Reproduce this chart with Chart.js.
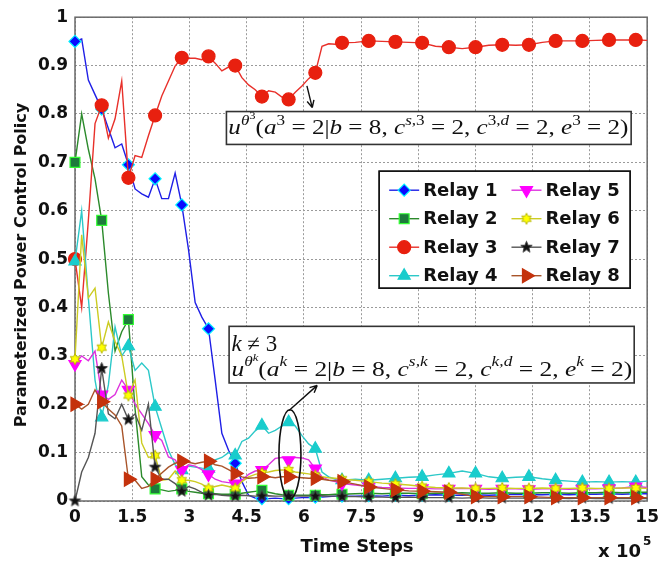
<!DOCTYPE html>
<html>
<head>
<meta charset="utf-8">
<script src="https://cdn.jsdelivr.net/npm/chart.js@4.4.1/dist/chart.umd.min.js"></script>
<style>
  html, body { margin: 0; padding: 0; background: #fff; }
  #wrap { width: 665px; height: 563px; }
</style>
</head>
<body>
<div id="wrap"><canvas id="grafico" width="665" height="563"></canvas></div>
<script>
// time axis, in units of 10^5 steps
const timeSteps = [0, 0.175, 0.35, 0.525, 0.7, 0.875, 1.05, 1.225, 1.4, 1.575, 1.75, 1.925, 2.1, 2.275, 2.45, 2.625,
  2.8, 2.975, 3.15, 3.325, 3.5, 3.675, 3.85, 4.025, 4.2, 4.375, 4.55, 4.725, 4.9, 5.075, 5.25, 5.425, 5.6, 5.775,
  5.95, 6.125, 6.3, 6.475, 6.65, 6.825, 7.0, 7.35, 7.7, 8.05, 8.4, 8.75, 9.1, 9.45, 9.8, 10.15, 10.5, 10.85, 11.2,
  11.55, 11.9, 12.25, 12.6, 12.95, 13.3, 13.65, 14.0, 14.35, 14.7, 15];

const relay1 = [0.95, 0.955, 0.87, 0.84, 0.81, 0.77, 0.73, 0.738, 0.695, 0.645, 0.635, 0.628, 0.666, 0.625, 0.625, 0.678,
  0.612, 0.52, 0.41, 0.38, 0.356, 0.25, 0.14, 0.105, 0.078, 0.04, 0.012, 0.006, 0.005, 0.005, 0.006, 0.005, 0.005, 0.006,
  0.007, 0.007, 0.008, 0.008, 0.009, 0.01, 0.01, 0.01, 0.011, 0.01, 0.012, 0.011, 0.012, 0.013, 0.012, 0.012, 0.013, 0.012,
  0.013, 0.014, 0.013, 0.013, 0.014, 0.013, 0.014, 0.014, 0.015, 0.014, 0.015, 0.015];
const relay2 = [0.70, 0.80, 0.727, 0.666, 0.58, 0.43, 0.31, 0.35, 0.375, 0.19, 0.05, 0.033, 0.025, 0.023, 0.02, 0.022,
  0.025, 0.02, 0.018, 0.016, 0.015, 0.015, 0.014, 0.014, 0.014, 0.016, 0.018, 0.02, 0.022, 0.018, 0.015, 0.013, 0.012, 0.012,
  0.012, 0.012, 0.012, 0.013, 0.013, 0.014, 0.014, 0.015, 0.016, 0.015, 0.016, 0.016, 0.015, 0.016, 0.016, 0.017, 0.016, 0.016,
  0.017, 0.016, 0.016, 0.017, 0.017, 0.016, 0.017, 0.017, 0.018, 0.017, 0.018, 0.018];
const relay3 = [0.5, 0.40, 0.58, 0.78, 0.818, 0.75, 0.79, 0.868, 0.668, 0.714, 0.71, 0.755, 0.797, 0.837, 0.868, 0.899,
  0.916, 0.915, 0.915, 0.912, 0.919, 0.905, 0.889, 0.897, 0.9, 0.875, 0.86, 0.85, 0.836, 0.848, 0.845, 0.835, 0.83, 0.845,
  0.858, 0.873, 0.885, 0.94, 0.945, 0.944, 0.947, 0.948, 0.951, 0.95, 0.949, 0.948, 0.947, 0.94, 0.938, 0.935, 0.938, 0.942,
  0.943, 0.942, 0.943, 0.948, 0.951, 0.951, 0.951, 0.952, 0.953, 0.953, 0.953, 0.952];
const relay4 = [0.495, 0.60, 0.42, 0.25, 0.173, 0.24, 0.36, 0.30, 0.32, 0.27, 0.285, 0.27, 0.195, 0.15, 0.105, 0.075,
  0.064, 0.072, 0.07, 0.068, 0.067, 0.085, 0.09, 0.1, 0.094, 0.123, 0.13, 0.145, 0.156, 0.14, 0.146, 0.155, 0.163, 0.155,
  0.135, 0.118, 0.108, 0.06, 0.05, 0.045, 0.043, 0.045, 0.043, 0.045, 0.047, 0.049, 0.05, 0.054, 0.057, 0.062, 0.057, 0.05,
  0.047, 0.049, 0.05, 0.046, 0.043, 0.041, 0.039, 0.04, 0.039, 0.04, 0.039, 0.041];
const relay5 = [0.283, 0.30, 0.29, 0.31, 0.22, 0.21, 0.22, 0.25, 0.23, 0.2, 0.18, 0.16, 0.136, 0.125, 0.091, 0.085,
  0.064, 0.075, 0.072, 0.065, 0.055, 0.045, 0.04, 0.038, 0.036, 0.043, 0.055, 0.062, 0.064, 0.075, 0.088, 0.09, 0.084, 0.09,
  0.089, 0.085, 0.067, 0.05, 0.043, 0.04, 0.036, 0.033, 0.03, 0.028, 0.027, 0.026, 0.026, 0.025, 0.025, 0.026, 0.025, 0.024,
  0.025, 0.025, 0.024, 0.025, 0.025, 0.024, 0.025, 0.025, 0.026, 0.027, 0.03, 0.028];
const relay6 = [0.293, 0.55, 0.42, 0.44, 0.317, 0.37, 0.33, 0.30, 0.218, 0.25, 0.12, 0.09, 0.094, 0.043, 0.045, 0.062,
  0.043, 0.043, 0.04, 0.035, 0.026, 0.03, 0.033, 0.03, 0.026, 0.04, 0.05, 0.055, 0.058, 0.06, 0.063, 0.064, 0.064, 0.06,
  0.058, 0.056, 0.053, 0.05, 0.048, 0.047, 0.045, 0.043, 0.04, 0.037, 0.035, 0.033, 0.03, 0.028, 0.027, 0.027, 0.026, 0.026,
  0.027, 0.026, 0.026, 0.027, 0.026, 0.026, 0.027, 0.026, 0.026, 0.027, 0.027, 0.026];
const relay7 = [0.0, 0.06, 0.09, 0.14, 0.274, 0.18, 0.17, 0.2, 0.168, 0.18, 0.146, 0.2, 0.07, 0.045, 0.045, 0.036,
  0.02, 0.03, 0.025, 0.018, 0.012, 0.014, 0.012, 0.011, 0.01, 0.012, 0.011, 0.01, 0.01, 0.011, 0.01, 0.01, 0.01, 0.011,
  0.01, 0.01, 0.01, 0.011, 0.01, 0.01, 0.009, 0.009, 0.008, 0.008, 0.007, 0.008, 0.007, 0.007, 0.007, 0.006, 0.007, 0.006,
  0.006, 0.006, 0.006, 0.006, 0.006, 0.005, 0.006, 0.005, 0.005, 0.005, 0.005, 0.005];
const relay8 = [0.2, 0.19, 0.2, 0.23, 0.205, 0.19, 0.178, 0.155, 0.045, 0.043, 0.026, 0.03, 0.045, 0.058, 0.07, 0.078,
  0.082, 0.08, 0.077, 0.08, 0.082, 0.075, 0.072, 0.065, 0.057, 0.05, 0.047, 0.048, 0.05, 0.05, 0.048, 0.05, 0.05, 0.049,
  0.048, 0.047, 0.047, 0.045, 0.043, 0.042, 0.04, 0.035, 0.029, 0.026, 0.023, 0.021, 0.02, 0.019, 0.018, 0.014, 0.009, 0.009,
  0.009, 0.009, 0.009, 0.008, 0.007, 0.007, 0.007, 0.007, 0.007, 0.007, 0.007, 0.007];

const relayNames = ['Relay 1', 'Relay 2', 'Relay 3', 'Relay 4', 'Relay 5', 'Relay 6', 'Relay 7', 'Relay 8'];
const xTickValues = [0, 1.5, 3, 4.5, 6, 7.5, 9, 10.5, 12, 13.5, 15];
const yTickValues = [0, 0.1, 0.2, 0.3, 0.4, 0.5, 0.6, 0.7, 0.8, 0.9, 1];

// a marker every 0.7 x 10^5 steps, like the original plot
function isMarker(t) {
    return t < 14.9 && Math.abs(t / 0.7 - Math.round(t / 0.7)) < 1e-6;
}

function starCanvas(points, outerR, innerR, fill, stroke) {
    const size = Math.ceil(outerR * 2 + 3);
    const c = document.createElement('canvas');
    c.width = size; c.height = size;
    const g = c.getContext('2d');
    g.beginPath();
    for (let i = 0; i < points * 2; i++) {
        const r = i % 2 === 0 ? outerR : innerR;
        const a = -Math.PI / 2 + i * Math.PI / points;
        g.lineTo(size / 2 + r * Math.cos(a), size / 2 + r * Math.sin(a));
    }
    g.closePath();
    g.fillStyle = fill; g.fill();
    g.strokeStyle = stroke; g.lineWidth = 1; g.stroke();
    return c;
}

const hexagram = starCanvas(6, 5.5, 3, '#ffff00', '#b8b800');
const pentagram = starCanvas(5, 6, 2.6, '#111111', '#444444');

const estilos = [
    { line: '#1f1fe6', fill: '#0a0aff', edge: '#00f0ff', style: 'rectRot', r: 6, rot: 0 },
    { line: '#2b8a2b', fill: '#1e7b3c', edge: '#33ff33', style: 'rect', r: 7, rot: 0 },
    { line: '#e8302a', fill: '#e8200f', edge: '#e8200f', style: 'circle', r: 6.5, rot: 0 },
    { line: '#2cc8c8', fill: '#19cccc', edge: '#19cccc', style: 'triangle', r: 7, rot: 0 },
    { line: '#dd33dd', fill: '#ff00ff', edge: '#ff00ff', style: 'triangle', r: 7, rot: 180 },
    { line: '#cccc22', fill: '#ffff00', edge: '#b8b800', style: hexagram, r: 5, rot: 0 },
    { line: '#555555', fill: '#111111', edge: '#111111', style: pentagram, r: 5, rot: 0 },
    { line: '#a8542a', fill: '#c4320c', edge: '#c4320c', style: 'triangle', r: 8, rot: 90 }
];

const series = [relay1, relay2, relay3, relay4, relay5, relay6, relay7, relay8];

const datasets = series.map((vals, i) => {
    const e = estilos[i];
    return {
        label: relayNames[i],
        data: timeSteps.map((t, k) => ({ x: t, y: vals[k] })),
        borderColor: e.line,
        borderWidth: 1.4,
        backgroundColor: e.fill,
        pointBackgroundColor: e.fill,
        pointBorderColor: e.edge,
        pointBorderWidth: 1.2,
        pointStyle: e.style,
        pointRotation: e.rot,
        pointRadius: ctx => (ctx.raw && isMarker(ctx.raw.x)) ? e.r : 0,
        pointHoverRadius: 0,
        tension: 0,
        order: 8 - i,
        clip: false
    };
});

// rich text: [text, 'i' italic | 'n' normal, level 0/1/2]
const caixa1 = [['u', 'i', 0], ['θ', 'i', 1], ['3', 'n', 2], ['(', 'n', 0], ['a', 'i', 0], ['3', 'n', 1],
    [' = 2|', 'n', 0], ['b', 'i', 0], [' = 8, ', 'n', 0], ['c', 'i', 0], ['s', 'i', 1], [',3', 'n', 1],
    [' = 2, ', 'n', 0], ['c', 'i', 0], ['3,', 'n', 1], ['d', 'i', 1], [' = 2, ', 'n', 0], ['e', 'i', 0],
    ['3', 'n', 1], [' = 2)', 'n', 0]];
const caixa2a = [['k', 'i', 0], [' ≠ 3', 'n', 0]];
const caixa2b = [['u', 'i', 0], ['θ', 'i', 1], ['k', 'i', 2], ['(', 'n', 0], ['a', 'i', 0], ['k', 'i', 1],
    [' = 2|', 'n', 0], ['b', 'i', 0], [' = 8, ', 'n', 0], ['c', 'i', 0], ['s,k', 'i', 1],
    [' = 2, ', 'n', 0], ['c', 'i', 0], ['k,d', 'i', 1], [' = 2, ', 'n', 0], ['e', 'i', 0],
    ['k', 'i', 1], [' = 2)', 'n', 0]];

function drawRich(ctx, segs, x, y, size, width) {
    const sizes = [size, size * 0.68, size * 0.5];
    const rise = [0, size * 0.42, size * 0.68];
    const fontFor = s => (s[1] === 'i' ? 'italic ' : '') + sizes[s[2]].toFixed(1) + 'px "Liberation Serif", serif';
    let total = 0;
    segs.forEach(s => { ctx.font = fontFor(s); total += ctx.measureText(s[0]).width; });
    ctx.save();
    ctx.translate(x, y);
    ctx.scale(width ? width / total : 1, 1);
    ctx.fillStyle = '#111';
    ctx.textAlign = 'left';
    ctx.textBaseline = 'alphabetic';
    let cx = 0;
    segs.forEach(s => {
        ctx.font = fontFor(s);
        ctx.fillText(s[0], cx, -rise[s[2]]);
        cx += ctx.measureText(s[0]).width;
    });
    ctx.restore();
}

function arrow(ctx, x0, y0, x1, y1) {
    const a = Math.atan2(y1 - y0, x1 - x0);
    ctx.beginPath();
    ctx.moveTo(x0, y0); ctx.lineTo(x1, y1);
    ctx.moveTo(x1, y1); ctx.lineTo(x1 - 8 * Math.cos(a - 0.45), y1 - 8 * Math.sin(a - 0.45));
    ctx.moveTo(x1, y1); ctx.lineTo(x1 - 8 * Math.cos(a + 0.45), y1 - 8 * Math.sin(a + 0.45));
    ctx.stroke();
}

function box(ctx, x0, y0, x1, y1) {
    ctx.fillStyle = '#fff';
    ctx.fillRect(x0, y0, x1 - x0, y1 - y0);
    ctx.strokeStyle = '#333';
    ctx.lineWidth = 1.6;
    ctx.strokeRect(x0, y0, x1 - x0, y1 - y0);
}

const decoracao = {
    id: 'decoracao',
    beforeDatasetsDraw(chart) {
        const a = chart.chartArea, ctx = chart.ctx;
        ctx.save();
        ctx.strokeStyle = '#6a6a6a';
        ctx.lineWidth = 1.5;
        ctx.strokeRect(a.left, a.top, a.right - a.left, a.bottom - a.top);
        ctx.restore();
    },
    afterDraw(chart) {
        const ctx = chart.ctx, a = chart.chartArea;
        const sx = chart.scales.x, sy = chart.scales.y;
        const px = v => sx.getPixelForValue(v), py = v => sy.getPixelForValue(v);
        ctx.save();

        // annotation for relay 3
        box(ctx, px(3.97), py(0.805), px(14.58), py(0.737));
        drawRich(ctx, caixa1, px(4.02), py(0.758), 22, px(14.51) - px(4.02));
        ctx.strokeStyle = '#111'; ctx.lineWidth = 1.4;
        arrow(ctx, px(6.08), py(0.858), px(6.22), py(0.813));

        // annotation for the other relays
        box(ctx, px(4.04), py(0.361), px(14.66), py(0.244));
        drawRich(ctx, caixa2a, px(4.10), py(0.31), 23, null);
        drawRich(ctx, caixa2b, px(4.10), py(0.259), 22, px(14.61) - px(4.10));
        ctx.strokeStyle = '#111'; ctx.lineWidth = 1.4;
        arrow(ctx, px(5.61), py(0.187), px(6.35), py(0.239));
        ctx.beginPath();
        ctx.ellipse(px(5.635), py(0.0965), 11, 44.5, 0, 0, Math.PI * 2);
        ctx.lineWidth = 1.6;
        ctx.stroke();

        // legend
        const lx = a.right - 268, ly = a.top + 154;
        box(ctx, lx, ly, lx + 251, ly + 117);
        ctx.lineWidth = 1.4;
        ctx.strokeStyle = '#111';
        ctx.strokeRect(lx, ly, 251, 117);
        for (let i = 0; i < 8; i++) {
            const col = Math.floor(i / 4), row = i % 4;
            const x0 = lx + 10 + col * 122.3;
            const yc = ly + 19 + row * 28.5;
            const e = estilos[i];
            ctx.strokeStyle = e.line; ctx.lineWidth = 1.4;
            ctx.beginPath(); ctx.moveTo(x0, yc); ctx.lineTo(x0 + 30, yc); ctx.stroke();
            ctx.fillStyle = e.fill; ctx.strokeStyle = e.edge; ctx.lineWidth = 1.2;
            Chart.helpers.drawPoint(ctx, { pointStyle: e.style, radius: e.r, rotation: e.rot, borderWidth: 1.2 }, x0 + 15, yc);
            ctx.fillStyle = '#111';
            ctx.font = 'bold 18px "DejaVu Sans", sans-serif';
            ctx.textAlign = 'left'; ctx.textBaseline = 'middle';
            ctx.fillText(relayNames[i], x0 + 34, yc + 1);
        }

        // axis titles
        ctx.fillStyle = '#111';
        ctx.font = 'bold 16px "DejaVu Sans", sans-serif';
        ctx.textAlign = 'center'; ctx.textBaseline = 'middle';
        ctx.save();
        ctx.translate(22, 265);
        ctx.rotate(-Math.PI / 2);
        ctx.fillText('Parameterized Power Control Policy', 0, 0);
        ctx.restore();
        ctx.font = 'bold 18px "DejaVu Sans", sans-serif';
        ctx.fillText('Time Steps', 357, 547);
        ctx.textAlign = 'left'; ctx.textBaseline = 'alphabetic';
        ctx.fillText('x 10', 598, 557);
        ctx.font = 'bold 12px "DejaVu Sans", sans-serif';
        ctx.fillText('5', 643, 545);
        ctx.restore();
    }
};

const tickFont = { family: '"DejaVu Sans", sans-serif', weight: 'bold', size: 17 };

new Chart(document.getElementById('grafico'), {
    type: 'line',
    data: { datasets: datasets },
    options: {
        responsive: false,
        animation: false,
        devicePixelRatio: 1,
        layout: { padding: { top: 14, right: 14, left: 0, bottom: 0 } },
        plugins: { legend: { display: false }, tooltip: { enabled: false } },
        scales: {
            x: {
                type: 'linear', min: 0, max: 15,
                afterBuildTicks: s => { s.ticks = xTickValues.map(v => ({ value: v })); },
                afterFit: s => { s.height = 62; },
                ticks: { font: tickFont, color: '#111', padding: 6, maxRotation: 0, autoSkip: false,
                    callback: v => String(v) },
                grid: { color: '#9a9a9a', lineWidth: 1, drawTicks: false },
                border: { display: false, dash: [2, 2] }
            },
            y: {
                type: 'linear', min: 0, max: 1,
                afterBuildTicks: s => { s.ticks = yTickValues.map(v => ({ value: v })); },
                afterFit: s => { s.width = 75; },
                ticks: { font: tickFont, color: '#111', padding: 7,
                    callback: v => String(Number(v.toFixed(1))) },
                grid: { color: '#9a9a9a', lineWidth: 1, drawTicks: false },
                border: { display: false, dash: [2, 2] }
            }
        }
    },
    plugins: [decoracao]
});
</script>
</body>
</html>
